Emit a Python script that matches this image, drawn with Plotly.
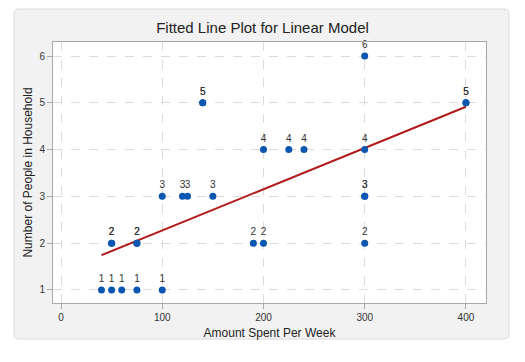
import plotly.graph_objects as go
import numpy as np

# Data (duplicates appear as bold/overlapping labels in the reference)
amount = [40, 50, 60, 75, 100,
          50, 50, 75, 75, 190, 200, 300,
          100, 120, 125, 150, 300, 300,
          200, 225, 240, 300,
          140, 140, 400, 400,
          300]
people = [1, 1, 1, 1, 1,
          2, 2, 2, 2, 2, 2, 2,
          3, 3, 3, 3, 3, 3,
          4, 4, 4, 4,
          5, 5, 5, 5,
          6]

x_ticks = [0, 100, 200, 300, 400]
y_ticks = [1, 2, 3, 4, 5, 6]

slope, intercept = np.polyfit(amount, people, 1)
fit_x = [min(amount), max(amount)]
fit_y = [intercept + slope * v for v in fit_x]

FONT = "Liberation Sans, Arial, sans-serif"

fig = go.Figure()
fig.add_trace(go.Scatter(
    x=fit_x, y=fit_y, mode="lines",
    line=dict(color="#b01c1c", width=2), hoverinfo="skip", showlegend=False))
fig.add_trace(go.Scatter(
    x=amount, y=people, mode="markers+text",
    text=[str(v) for v in people], textposition="top center",
    textfont=dict(size=10, color="#333333", family=FONT),
    marker=dict(color="#0a56b0", size=7), cliponaxis=False, showlegend=False))

# panel (rounded rectangle) and white plot area
L, R, T, B = 53, 486, 42, 303
W, H = R - L, B - T
def px(xp):
    return (xp - L) / W
def py(yp):
    return (B - yp) / H
x0, x1, y0, y1 = px(14), px(509), py(339), py(9)
rx, ry = 5 / W, 5 / H
path = (f"M {x0+rx},{y0} L {x1-rx},{y0} Q {x1},{y0} {x1},{y0+ry} "
        f"L {x1},{y1-ry} Q {x1},{y1} {x1-rx},{y1} L {x0+rx},{y1} "
        f"Q {x0},{y1} {x0},{y1-ry} L {x0},{y0+ry} Q {x0},{y0} {x0+rx},{y0} Z")
fig.add_shape(type="path", path=path, xref="paper", yref="paper",
              fillcolor="#f2f2f2", line=dict(color="#dadada", width=1), layer="below")
fig.add_shape(type="rect", x0=0, x1=1, y0=0, y1=1, xref="paper", yref="paper",
              fillcolor="white", line=dict(width=0), layer="below")

fig.update_layout(
    width=525, height=362,
    margin=dict(l=L, r=525 - R, t=T, b=362 - B),
    paper_bgcolor="white", plot_bgcolor="rgba(0,0,0,0)",
    font=dict(family=FONT, color="#333333"),
    title=dict(text="Fitted Line Plot for Linear Model", x=0.5, xanchor="center",
               y=1 - 28 / 362, yanchor="middle",
               font=dict(size=15, color="#222222", family=FONT)),
)
fig.update_xaxes(
    range=[-7.9, 419.8], tickvals=x_ticks, ticktext=[str(v) for v in x_ticks],
    showline=True, mirror=True, linecolor="#a8a8a8", linewidth=1,
    ticks="outside", ticklen=5, tickcolor="#a8a8a8",
    showgrid=True, gridcolor="#dcdcdc", griddash="dash", gridwidth=1,
    zeroline=False, tickfont=dict(size=10, color="#333333"),
    title=dict(text="Amount Spent Per Week", font=dict(size=12, color="#222222"), standoff=6),
)
fig.update_yaxes(
    range=[0.72, 6.3], tickvals=y_ticks, ticktext=[str(v) for v in y_ticks],
    showline=True, mirror=True, linecolor="#a8a8a8", linewidth=1,
    ticks="outside", ticklen=5, tickcolor="#a8a8a8",
    showgrid=True, gridcolor="#dcdcdc", griddash="dash", gridwidth=1,
    zeroline=False, tickfont=dict(size=10, color="#333333"),
    title=dict(text="Number of People in Household", font=dict(size=12, color="#222222"), standoff=4),
)

fig.write_html("out.html", config={"displayModeBar": False},
               post_script="document.body.style.margin='0';")
